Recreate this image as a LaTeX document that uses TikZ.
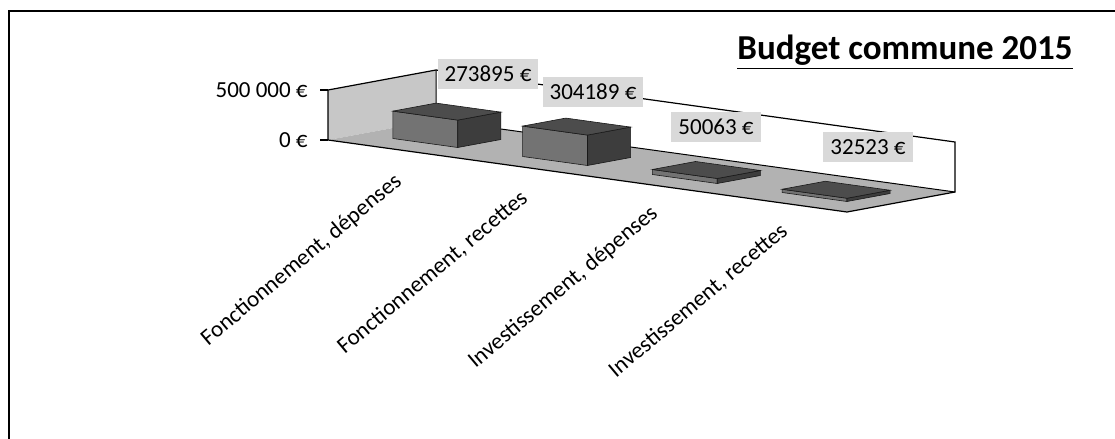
\documentclass[tikz,border=0pt]{standalone}
\usepackage{fontspec}
\setmainfont{Carlito}
\usepackage{tikz}
\usetikzlibrary{
    positioning
}
\tikzstyle{ticklabel} = [
    anchor=east,
    inner sep=0pt,
    font=\fontsize{11.5}{13}\selectfont
]
\tikzstyle{datalabel} = [
    fill=black!15,
    inner sep=3.5pt,
    font=\fontsize{11.5}{13}\selectfont
]
\tikzstyle{catlabel} = [
    anchor=base east,
    rotate=40,
    inner sep=0pt,
    font=\fontsize{11.5}{13}\selectfont
]
\tikzstyle{barfront} = [
    fill=black!55,
    draw=black!90,
    line width=0.3pt
]
\tikzstyle{barside} = [
    fill=black!76,
    draw=black!90,
    line width=0.3pt
]
\tikzstyle{bartop} = [
    fill=black!70,
    draw=black!90,
    line width=0.3pt
]

\begin{document}
\begin{tikzpicture}[x=0.5pt, y=-0.5pt]
    \useasboundingbox (0,0) rectangle (1115,439);
    % frame
    \draw[line width=0.8pt] (9,439) -- (9,11) -- (1115,11);
    \node[anchor=base east, inner sep=0pt, font=\fontsize{17.5}{20}\selectfont\bfseries]
        (title) at (1073,60) {\underline{Budget commune 2015}};
    % walls and floor
    \coordinate (fl) at (328,140);
    \coordinate (fr) at (847,212);
    \coordinate (bl) at (436,120);
    \coordinate (br) at (955,192);
    \coordinate (tl) at (328,90);
    \coordinate (tb) at (436,70);
    \coordinate (tr) at (955,142);
    \fill[black!22] (tl) -- (tb) -- (bl) -- (fl) -- cycle;
    \fill[white] (tb) -- (tr) -- (br) -- (bl) -- cycle;
    \fill[black!30] (fl) -- (fr) -- (br) -- (bl) -- cycle;
    \draw[line width=0.6pt] (fl) -- (tl) -- (tb) -- (tr) -- (br) -- (fr) -- cycle;
    \draw[line width=0.5pt] (tb) -- (bl) -- (br);
    % axis
    \draw[line width=0.6pt] (320,90) -- (tl);
    \draw[line width=0.6pt] (320,140) -- (fl);
    \node[ticklabel] (max) at (308,90) {500 000 €};
    \node[ticklabel] (zero) at (308,140) {0 €};
    % bars
    \begin{scope}[shift={(328,140)}, x={(259.5pt,-36pt)}, y={(0pt,0.05pt)}, z={(54pt,10pt)}]
        \foreach \c/\v in {0.125/273.895, 0.375/304.189, 0.625/50.063, 0.875/32.523} {
            \pgfmathsetmacro\xa{\c-0.0625}
            \pgfmathsetmacro\xb{\c+0.0625}
            \filldraw[barfront] (\xa,0,0.3) -- (\xb,0,0.3) -- (\xb,\v,0.3) -- (\xa,\v,0.3) -- cycle;
            \filldraw[barside] (\xb,0,0.3) -- (\xb,0,0.7) -- (\xb,\v,0.7) -- (\xb,\v,0.3) -- cycle;
            \filldraw[bartop] (\xa,\v,0.3) -- (\xb,\v,0.3) -- (\xb,\v,0.7) -- (\xa,\v,0.7) -- cycle;
        }
    \end{scope}
    % values
    \node[datalabel] (val1) at (488,74) {273895 €};
    \node[datalabel] (val2) at (593,92) {304189 €};
    \node[datalabel] (val3) at (716,127) {50063 €};
    \node[datalabel] (val4) at (868,147) {32523 €};
    % categories
    \node[catlabel] (cat1) at (403,183) {Fonctionnement, dépenses};
    \node[catlabel] (cat2) at (529,200) {Fonctionnement, recettes};
    \node[catlabel] (cat3) at (659,215) {Investissement, dépenses};
    \node[catlabel] (cat4) at (789,233) {Investissement, recettes};
\end{tikzpicture}
\end{document}
